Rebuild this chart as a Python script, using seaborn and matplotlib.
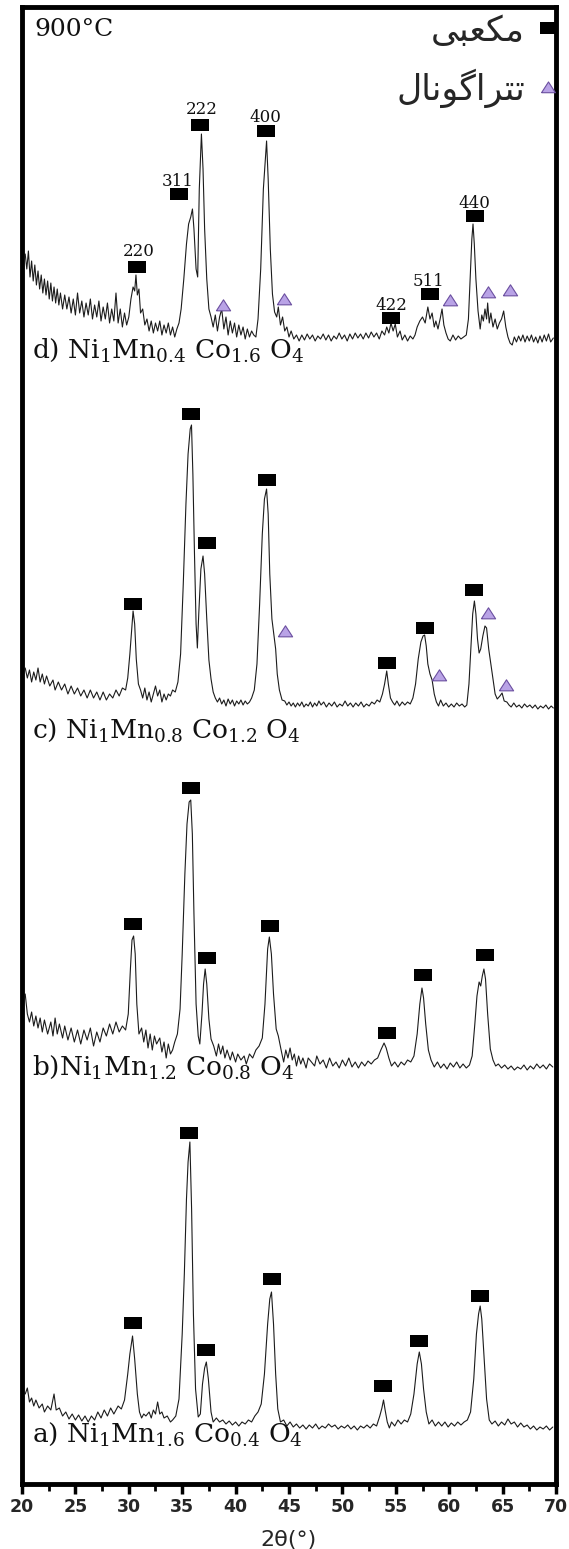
import numpy as np
import pandas as pd
import matplotlib
matplotlib.use("Agg")
import matplotlib.pyplot as plt
import seaborn as sns
from matplotlib.lines import Line2D

# ---------------- data (2θ in degrees, intensity in arbitrary units above each pattern's baseline) -------------
trace_a = [
    (20.3, 30), (20.5, 36), (20.7, 22), (20.9, 26), (21.1, 18), (21.3, 24), (21.6, 16), (21.9, 20), (22.1, 12),
    (22.4, 18), (22.7, 14), (23.0, 30), (23.2, 14), (23.5, 16), (23.8, 8), (24.1, 12), (24.4, 5), (24.7, 10),
    (25.0, 4), (25.3, 9), (25.6, 3), (25.9, 8), (26.2, 2), (26.5, 8), (26.8, 4), (27.1, 12), (27.4, 6),
    (27.7, 14), (28.0, 8), (28.3, 16), (28.6, 10), (29.0, 18), (29.3, 15), (29.6, 24), (29.9, 50), (30.1, 70),
    (30.35, 88), (30.55, 65), (30.8, 30), (31.0, 12), (31.2, 6), (31.4, 10), (31.6, 8), (31.9, 12), (32.1, 6),
    (32.3, 14), (32.5, 10), (32.7, 22), (32.9, 10), (33.1, 12), (33.3, 6), (33.6, 8), (33.9, 2), (34.1, 4),
    (34.4, 8), (34.7, 25), (35.0, 90), (35.2, 150), (35.4, 225), (35.55, 262), (35.72, 282), (35.88, 215),
    (36.05, 110), (36.25, 35), (36.5, 7), (36.7, 10), (36.9, 40), (37.1, 56), (37.26, 62), (37.45, 45),
    (37.7, 12), (37.9, 2), (38.2, 6), (38.5, 2), (38.8, 4), (39.1, 0), (39.4, 3), (39.7, -1), (40.0, 2),
    (40.3, -2), (40.6, 2), (40.9, 0), (41.2, 4), (41.5, 2), (41.8, 8), (42.1, 12), (42.4, 20), (42.7, 50),
    (43.0, 100), (43.2, 125), (43.36, 132), (43.55, 100), (43.75, 50), (43.95, 15), (44.2, 2), (44.5, 4),
    (44.8, -2), (45.1, 2), (45.4, -3), (45.7, 0), (46.0, -4), (46.3, -1), (46.6, -5), (46.9, -1), (47.2, -4),
    (47.5, 0), (47.8, -5), (48.1, -2), (48.4, -4), (48.7, 0), (49.0, -3), (49.3, -1), (49.6, -5), (49.9, -2),
    (50.2, -4), (50.5, -1), (50.8, -5), (51.1, -2), (51.4, -6), (51.7, -2), (52.0, -4), (52.3, -1), (52.6, -4),
    (52.9, 0), (53.2, -2), (53.5, 8), (53.7, 16), (53.85, 24), (54.0, 14), (54.2, 2), (54.4, -4), (54.6, 2),
    (54.9, -2), (55.2, 4), (55.5, 0), (55.8, 4), (56.1, 2), (56.4, 10), (56.7, 30), (57.0, 60), (57.2, 72),
    (57.4, 60), (57.6, 35), (57.85, 12), (58.1, 0), (58.4, 4), (58.7, -2), (59.0, 2), (59.3, -2), (59.6, 2),
    (59.9, -3), (60.2, 1), (60.5, -2), (60.8, 2), (61.1, -1), (61.4, 2), (61.7, 4), (62.0, 12), (62.3, 45),
    (62.55, 90), (62.75, 110), (62.9, 118), (63.05, 105), (63.25, 70), (63.5, 25), (63.75, 4), (64.0, 0),
    (64.3, 3), (64.6, -2), (64.9, 2), (65.2, -1), (65.5, 5), (65.8, 0), (66.1, 2), (66.4, -3), (66.7, 1),
    (67.0, -3), (67.3, -1), (67.6, -5), (67.9, -2), (68.2, -6), (68.5, -3), (68.8, -5), (69.1, -2), (69.4, -6),
    (69.7, -3),
]

trace_b = [
    (20.3, 70), (20.5, 50), (20.7, 42), (20.9, 52), (21.1, 38), (21.3, 48), (21.5, 36), (21.7, 46), (21.9, 32),
    (22.1, 44), (22.4, 30), (22.7, 42), (22.9, 28), (23.1, 46), (23.3, 30), (23.5, 40), (23.8, 26), (24.0, 38),
    (24.3, 24), (24.6, 36), (24.9, 22), (25.2, 34), (25.5, 20), (25.8, 34), (26.1, 24), (26.4, 36), (26.7, 18),
    (27.0, 32), (27.3, 22), (27.6, 36), (27.9, 28), (28.2, 40), (28.5, 30), (28.8, 42), (29.1, 32), (29.4, 38),
    (29.7, 34), (29.95, 50), (30.15, 95), (30.3, 124), (30.45, 128), (30.6, 110), (30.75, 60), (30.95, 30),
    (31.2, 36), (31.4, 22), (31.6, 34), (31.8, 16), (32.0, 30), (32.2, 14), (32.4, 28), (32.6, 20), (32.9, 26),
    (33.1, 12), (33.3, 22), (33.5, 6), (33.7, 20), (33.9, 10), (34.1, 14), (34.3, 22), (34.55, 30), (34.8, 55),
    (35.0, 110), (35.25, 190), (35.45, 240), (35.65, 262), (35.8, 264), (35.95, 230), (36.1, 150), (36.3, 60),
    (36.5, 28), (36.65, 20), (36.85, 50), (37.0, 80), (37.15, 95), (37.3, 80), (37.5, 45), (37.7, 25),
    (37.95, 18), (38.2, 8), (38.4, 20), (38.6, 10), (38.8, 18), (39.0, 6), (39.2, 14), (39.5, 4), (39.7, 12),
    (40.0, 2), (40.2, 10), (40.5, 4), (40.8, 8), (41.0, 0), (41.3, 10), (41.6, 6), (41.9, 14), (42.2, 18),
    (42.5, 26), (42.75, 60), (43.0, 115), (43.16, 127), (43.35, 110), (43.55, 70), (43.8, 35), (44.0, 28),
    (44.3, 12), (44.5, 2), (44.7, 14), (44.9, 6), (45.1, 16), (45.3, 4), (45.5, 10), (45.7, -2), (45.9, 8),
    (46.1, 0), (46.3, 6), (46.6, -4), (46.8, 6), (47.1, 2), (47.4, -2), (47.6, 8), (47.9, 0), (48.2, 4),
    (48.5, -4), (48.8, 6), (49.1, -2), (49.4, 2), (49.7, -4), (50.0, 4), (50.3, -2), (50.6, 6), (50.9, -3),
    (51.2, 2), (51.5, -4), (51.8, 2), (52.1, -2), (52.4, 3), (52.7, 0), (53.0, 4), (53.3, 6), (53.6, 14),
    (53.9, 21), (54.1, 16), (54.35, 6), (54.6, -2), (54.9, 2), (55.2, -3), (55.5, 2), (55.8, -1), (56.1, 4),
    (56.4, 2), (56.7, 8), (57.0, 30), (57.25, 60), (57.45, 76), (57.6, 66), (57.8, 40), (58.05, 14),
    (58.3, 4), (58.6, -3), (58.9, 2), (59.2, -4), (59.5, 0), (59.8, -5), (60.1, 1), (60.4, -3), (60.7, 2),
    (61.0, -4), (61.3, 0), (61.6, -4), (61.9, -1), (62.15, 8), (62.4, 40), (62.6, 68), (62.8, 82), (62.95, 78),
    (63.1, 88), (63.25, 95), (63.4, 85), (63.6, 50), (63.85, 15), (64.1, 4), (64.35, -2), (64.6, 0),
    (64.9, -4), (65.2, -1), (65.5, -5), (65.8, -2), (66.1, -6), (66.4, -3), (66.7, -5), (67.0, -1), (67.3, -6),
    (67.6, -2), (67.9, -5), (68.2, 0), (68.5, -4), (68.8, -1), (69.1, -5), (69.4, 0), (69.7, -3),
]

trace_c = [
    (20.3, 36), (20.5, 26), (20.7, 34), (20.9, 22), (21.1, 32), (21.3, 24), (21.5, 36), (21.7, 22), (21.9, 30),
    (22.1, 20), (22.3, 28), (22.6, 18), (22.9, 24), (23.1, 14), (23.4, 22), (23.7, 14), (24.0, 20), (24.3, 10),
    (24.6, 18), (24.9, 10), (25.2, 16), (25.5, 8), (25.8, 14), (26.1, 6), (26.4, 14), (26.7, 6), (27.0, 12),
    (27.3, 4), (27.6, 12), (27.9, 4), (28.2, 10), (28.5, 6), (28.8, 14), (29.1, 8), (29.4, 16), (29.7, 14),
    (29.9, 26), (30.1, 50), (30.25, 72), (30.4, 93), (30.55, 80), (30.7, 45), (30.9, 20), (31.1, 14),
    (31.3, 6), (31.5, 16), (31.7, 4), (31.9, 12), (32.1, 2), (32.3, 10), (32.5, 18), (32.7, 8), (32.9, 14),
    (33.1, 2), (33.3, 10), (33.5, 4), (33.7, 10), (33.9, 8), (34.1, 14), (34.35, 12), (34.6, 22), (34.85, 50),
    (35.1, 120), (35.35, 200), (35.55, 250), (35.75, 275), (35.87, 279), (36.0, 230), (36.15, 150),
    (36.3, 80), (36.42, 56), (36.55, 90), (36.75, 135), (36.95, 148), (37.1, 130), (37.3, 85), (37.5, 44),
    (37.7, 25), (37.9, 12), (38.1, 6), (38.3, 2), (38.5, 6), (38.7, 0), (38.9, 4), (39.1, -2), (39.3, 5),
    (39.5, 0), (39.7, 4), (39.9, -2), (40.1, 3), (40.3, 0), (40.5, 4), (40.7, -1), (40.9, 3), (41.1, 0),
    (41.3, 2), (41.5, 6), (41.75, 14), (42.0, 40), (42.25, 100), (42.5, 170), (42.7, 205), (42.9, 215),
    (43.05, 190), (43.2, 130), (43.4, 85), (43.6, 68), (43.75, 55), (43.9, 30), (44.1, 14), (44.35, 4),
    (44.6, 3), (44.8, -1), (45.0, 2), (45.2, -2), (45.4, 1), (45.6, -3), (45.8, 1), (46.0, -2), (46.2, 2),
    (46.4, -3), (46.6, 0), (46.8, -2), (47.0, 2), (47.2, -3), (47.4, 1), (47.6, -2), (47.8, 3), (48.0, -1),
    (48.25, 2), (48.5, -3), (48.75, 1), (49.0, -2), (49.25, 2), (49.5, -3), (49.75, 0), (50.0, -2),
    (50.25, 3), (50.5, -2), (50.75, 1), (51.0, -3), (51.25, 1), (51.5, -2), (51.75, 2), (52.0, -3),
    (52.25, 0), (52.5, -2), (52.75, 2), (53.0, 0), (53.25, 4), (53.5, 2), (53.75, 10), (53.95, 20),
    (54.15, 33), (54.3, 20), (54.5, 6), (54.7, 2), (54.9, -1), (55.1, 3), (55.35, -2), (55.6, 2), (55.85, -1),
    (56.1, 2), (56.35, 0), (56.6, 6), (56.85, 20), (57.1, 45), (57.35, 62), (57.55, 68), (57.7, 69),
    (57.85, 58), (58.0, 40), (58.2, 30), (58.4, 24), (58.6, 10), (58.8, 2), (59.0, -2), (59.2, 4),
    (59.45, -2), (59.7, 1), (59.95, -3), (60.2, 0), (60.45, -3), (60.7, 1), (60.95, -2), (61.2, 0),
    (61.45, -3), (61.65, -1), (61.85, 20), (62.05, 60), (62.2, 90), (62.36, 103), (62.5, 90), (62.65, 65),
    (62.8, 51), (62.95, 55), (63.15, 68), (63.35, 78), (63.5, 76), (63.7, 55), (63.9, 40), (64.1, 25),
    (64.3, 10), (64.5, 5), (64.75, 8), (64.95, 11), (65.15, 3), (65.4, 2), (65.6, -1), (65.8, -3), (66.05, 1),
    (66.3, -3), (66.55, -1), (66.8, -4), (67.05, 0), (67.3, -3), (67.55, -1), (67.8, -4), (68.05, -1),
    (68.3, -5), (68.55, -2), (68.8, -4), (69.05, -1), (69.3, -5), (69.55, -2), (69.75, -4),
]

trace_d = [
    (20.3, 85), (20.45, 70), (20.6, 88), (20.75, 62), (20.9, 78), (21.05, 58), (21.2, 74), (21.35, 54),
    (21.5, 68), (21.65, 50), (21.8, 64), (21.95, 46), (22.1, 60), (22.25, 44), (22.4, 58), (22.55, 40),
    (22.7, 56), (22.85, 38), (23.0, 52), (23.15, 36), (23.3, 50), (23.45, 34), (23.6, 46), (23.8, 30),
    (24.0, 44), (24.2, 30), (24.4, 42), (24.6, 26), (24.8, 40), (25.0, 24), (25.2, 46), (25.4, 26), (25.6, 38),
    (25.8, 22), (26.0, 36), (26.2, 24), (26.4, 40), (26.6, 20), (26.8, 34), (27.0, 22), (27.2, 38), (27.4, 18),
    (27.6, 32), (27.8, 20), (28.0, 36), (28.2, 16), (28.4, 30), (28.6, 18), (28.8, 46), (29.0, 16), (29.2, 30),
    (29.4, 12), (29.6, 26), (29.8, 14), (30.0, 22), (30.2, 40), (30.4, 52), (30.55, 48), (30.67, 64),
    (30.8, 44), (30.95, 50), (31.1, 26), (31.3, 30), (31.5, 14), (31.7, 20), (31.9, 8), (32.1, 18), (32.3, 6),
    (32.5, 16), (32.7, 8), (32.9, 18), (33.1, 4), (33.3, 14), (33.5, 6), (33.7, 16), (33.9, 4), (34.1, 12),
    (34.3, 2), (34.5, 10), (34.7, 16), (34.9, 30), (35.15, 60), (35.4, 95), (35.6, 115), (35.8, 122),
    (35.96, 130), (36.1, 110), (36.3, 70), (36.45, 62), (36.6, 150), (36.8, 205), (36.95, 170), (37.1, 110),
    (37.3, 60), (37.5, 30), (37.7, 22), (37.9, 12), (38.1, 24), (38.3, 8), (38.5, 22), (38.7, 30), (38.9, 10),
    (39.1, 22), (39.3, 4), (39.5, 18), (39.7, 6), (39.9, 16), (40.1, 2), (40.3, 14), (40.5, 4), (40.7, 12),
    (40.9, 0), (41.1, 10), (41.3, 2), (41.5, 8), (41.7, 4), (41.9, 2), (42.1, 20), (42.35, 70), (42.6, 150),
    (42.9, 198), (43.05, 160), (43.25, 90), (43.45, 45), (43.65, 27), (43.85, 22), (44.0, 32), (44.2, 14),
    (44.4, 22), (44.6, 8), (44.8, 12), (45.0, 2), (45.2, 8), (45.45, 0), (45.7, 4), (45.95, -2), (46.2, 4),
    (46.45, -1), (46.7, 5), (46.95, 0), (47.2, 4), (47.45, -2), (47.7, 3), (47.95, 0), (48.2, 5), (48.45, -1),
    (48.7, 4), (48.95, -2), (49.2, 3), (49.45, 0), (49.7, 6), (49.95, 0), (50.2, 4), (50.45, -2), (50.7, 5),
    (50.95, 0), (51.2, 6), (51.45, 1), (51.7, 5), (51.95, 0), (52.2, 6), (52.45, 1), (52.7, 7), (52.95, 2),
    (53.2, 6), (53.45, 0), (53.7, 8), (53.95, 4), (54.15, 12), (54.35, 6), (54.55, 16), (54.75, 8),
    (54.95, 15), (55.15, 2), (55.4, 8), (55.6, -1), (55.85, 4), (56.1, -2), (56.35, 3), (56.6, 0), (56.8, 4),
    (57.0, 12), (57.25, 18), (57.5, 22), (57.75, 16), (58.0, 32), (58.2, 20), (58.4, 26), (58.6, 12),
    (58.75, 18), (58.95, 10), (59.15, 20), (59.33, 30), (59.5, 14), (59.7, 6), (59.9, 0), (60.1, -2),
    (60.35, 4), (60.6, -1), (60.85, 3), (61.1, 0), (61.35, 2), (61.6, 4), (61.8, 20), (62.0, 70), (62.12, 100),
    (62.23, 115), (62.35, 95), (62.5, 60), (62.7, 28), (62.9, 10), (63.05, 24), (63.2, 18), (63.35, 30),
    (63.5, 20), (63.6, 36), (63.75, 16), (63.9, 26), (64.1, 12), (64.3, 20), (64.5, 10), (64.7, 16),
    (64.9, 20), (65.1, 28), (65.3, 12), (65.5, 2), (65.7, -4), (65.9, -6), (66.1, 2), (66.3, -3), (66.5, 3),
    (66.7, -2), (66.9, 4), (67.1, -3), (67.3, 3), (67.5, -2), (67.7, 4), (67.9, -3), (68.1, 2), (68.3, -4),
    (68.5, 3), (68.7, -3), (68.9, 4), (69.1, -2), (69.3, 5), (69.5, -3), (69.75, 1),
]

samples = ["a", "b", "c", "d"]
sample_offsets = [60, 420, 780, 1145]
sample_labels = [
    r"a) Ni$_{1}$Mn$_{1.6}$ Co$_{0.4}$ O$_{4}$",
    r"b)Ni$_{1}$Mn$_{1.2}$ Co$_{0.8}$ O$_{4}$",
    r"c) Ni$_{1}$Mn$_{0.8}$ Co$_{1.2}$ O$_{4}$",
    r"d) Ni$_{1}$Mn$_{0.4}$ Co$_{1.6}$ O$_{4}$",
]
label_levels = [3, 10, -13, 2]

# cubic (■) marker positions (2θ, intensity) per sample
cubic_x = {
    "a": [30.36, 35.64, 37.23, 43.39, 53.77, 57.17, 62.88],
    "b": [30.36, 35.87, 37.32, 43.26, 54.19, 57.59, 63.31],
    "c": [30.36, 35.87, 37.32, 42.94, 54.19, 57.70, 62.32],
    "d": [30.77, 34.70, 36.71, 42.85, 54.51, 58.20, 62.40],
}
cubic_y = {
    "a": [101, 291, 74, 145, 38, 83, 128],
    "b": [140, 276, 106, 138, 31, 89, 109],
    "c": [100, 290, 161, 224, 41, 76, 114],
    "d": [72, 145, 214, 208, 21, 45, 123],
}
# tetragonal (▲) marker positions
tetra_x = {"c": [44.59, 59.09, 63.66, 65.35], "d": [38.78, 44.49, 60.07, 63.60, 65.67]}
tetra_y = {"c": [73, 29, 91, 19], "d": [34, 40, 39, 47, 49]}

# Miller indices of the cubic phase (sample d)
hkl_labels = ["220", "311", "222", "400", "422", "511", "440"]
hkl_x = [30.94, 34.57, 36.85, 42.75, 54.55, 58.08, 62.40]
hkl_y = [88, 158, 229, 222, 34, 58, 135]

x_ticks = [20, 25, 30, 35, 40, 45, 50, 55, 60, 65, 70]
legend_cubic = "\uFBFD\uFE92\uFECC\uFB91\uFEE3"                      # مکعبی (pre-shaped, visual order)
legend_tetra = "\uFEDD\uFE8E\uFEE7\uFEEE\uFB94\uFE8D\uFEAE\uFE98\uFE97"  # تتراگونال
temperature = "900°C"
x_label = "2θ(°)"

# ---------------- styling ----------------
sns.set_theme(style="white")
plt.rcParams["font.family"] = ["DejaVu Serif", "DejaVu Sans"]
plt.rcParams["mathtext.fontset"] = "dejavuserif"

W, H = 569, 1549
fig = plt.figure(figsize=(W / 100, H / 100), dpi=100)
ax = fig.add_axes([22 / W, 1 - 1484 / H, (556 - 22) / W, (1484 - 7) / H])

rect_marker = [(-1.45, -1), (1.45, -1), (1.45, 1), (-1.45, 1), (-1.45, -1)]
tri_marker = [(-1, -0.75), (1, -0.75), (0, 0.8), (-1, -0.75)]
tri_face, tri_edge = "#b9a3e6", "#6b4fa0"

traces = {"a": trace_a, "b": trace_b, "c": trace_c, "d": trace_d}
for s, off, lab, lv in zip(samples, sample_offsets, sample_labels, label_levels):
    df = pd.DataFrame(traces[s], columns=["two_theta", "intensity"])
    df["counts"] = df["intensity"] + off
    sns.lineplot(data=df, x="two_theta", y="counts", ax=ax, color="#1c1c1c",
                 linewidth=0.8, estimator=None, sort=False)
    sns.scatterplot(x=cubic_x[s], y=np.array(cubic_y[s]) + off, ax=ax, marker=rect_marker,
                    s=150, color="black", linewidth=0, zorder=5)
    if s in tetra_x:
        sns.scatterplot(x=tetra_x[s], y=np.array(tetra_y[s]) + off, ax=ax, marker=tri_marker,
                        s=105, color=tri_face, edgecolor=tri_edge, linewidth=0.8, zorder=5)
    ax.text(20.9, off + lv, lab, ha="left", va="top", fontsize=19, color="#111111")

for t, hx, hy in zip(hkl_labels, hkl_x, hkl_y):
    ax.text(hx, hy + sample_offsets[3], t, ha="center", va="center", fontsize=12, color="#111111")

ax.text(21.2, 1466, temperature, ha="left", va="top", fontsize=18, color="#111111")

handles = [
    Line2D([], [], linestyle="none", marker=rect_marker, markersize=12, color="black", markeredgewidth=0),
    Line2D([], [], linestyle="none", marker=tri_marker, markersize=10, markerfacecolor=tri_face,
           markeredgecolor=tri_edge, markeredgewidth=0.8),
]
leg = ax.legend(handles, [legend_cubic, legend_tetra], loc="upper right", markerfirst=False,
                frameon=False, prop={"family": "DejaVu Sans", "size": 25}, handletextpad=0.3,
                labelspacing=0.6, borderaxespad=0.0, handlelength=0.7,
                bbox_to_anchor=(1.033, 1.005))

ax.set_xlim(20, 70)
ax.set_ylim(0, 1477)
ax.set_xticks(x_ticks)
ax.set_xticks(np.arange(22.5, 70, 5), minor=True)
ax.set_yticks([])
ax.tick_params(axis="x", which="major", direction="out", length=7, width=2.5, color="black",
               labelsize=12.5, pad=3, bottom=True)
ax.tick_params(axis="x", which="minor", direction="out", length=5, width=2, color="black", bottom=True)
for lbl in ax.get_xticklabels():
    lbl.set_family("DejaVu Sans")
    lbl.set_fontweight("bold")
for sp in ax.spines.values():
    sp.set_visible(True)
    sp.set_color("black")
    sp.set_linewidth(3.5)
ax.set_xlabel(x_label, family="DejaVu Sans", fontsize=16, labelpad=10)
ax.set_ylabel("")

fig.savefig("out.png", dpi=100)
